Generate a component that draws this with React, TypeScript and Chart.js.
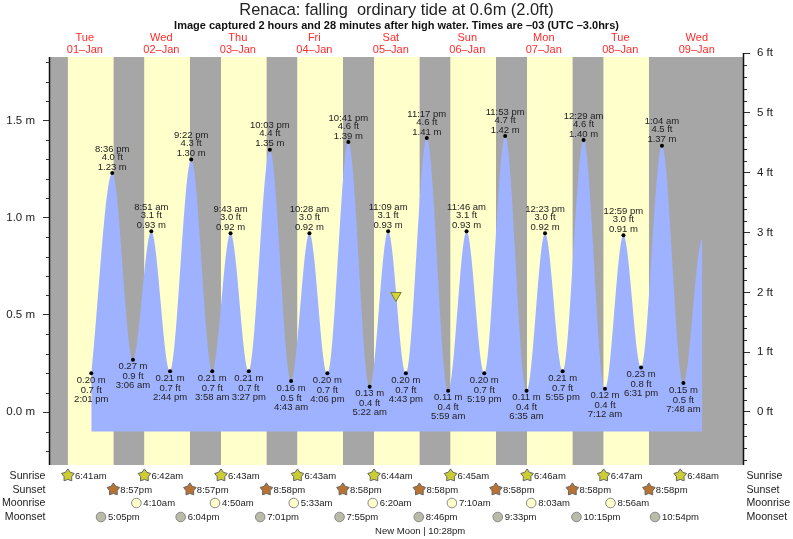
import React, { useEffect, useRef } from "react";
import { Chart, registerables } from "chart.js";

Chart.register(...registerables);

const FONT = "'Liberation Sans', Arial, sans-serif";
const TITLE = "Renaca: falling  ordinary tide at 0.6m (2.0ft)";
const SUBTITLE = "Image captured 2 hours and 28 minutes after high water. Times are –03 (UTC –3.0hrs)";

const dayNames = ["Tue", "Wed", "Thu", "Fri", "Sat", "Sun", "Mon", "Tue", "Wed"];
const dayDates = ["01–Jan", "02–Jan", "03–Jan", "04–Jan", "05–Jan", "06–Jan", "07–Jan", "08–Jan", "09–Jan"];

// Tide turning points: day of January, clock time, metres, feet
const tideDays = [1, 1, 2, 2, 2, 2, 3, 3, 3, 3, 4, 4, 4, 4, 5, 5, 5, 5, 6, 6, 6, 6, 7, 7, 7, 8, 8, 8, 8, 9, 9];
const tideTimes = [
  "2:01 pm", "8:36 pm", "3:06 am", "8:51 am", "2:44 pm", "9:22 pm", "3:58 am", "9:43 am", "3:27 pm", "10:03 pm",
  "4:43 am", "10:28 am", "4:06 pm", "10:41 pm", "5:22 am", "11:09 am", "4:43 pm", "11:17 pm", "5:59 am", "11:46 am",
  "5:19 pm", "11:53 pm", "6:35 am", "12:23 pm", "5:55 pm", "12:29 am", "7:12 am", "12:59 pm", "6:31 pm", "1:04 am", "7:48 am",
];
const tideMetres = [
  0.2, 1.23, 0.27, 0.93, 0.21, 1.3, 0.21, 0.92, 0.21, 1.35, 0.16, 0.92, 0.2, 1.39, 0.13, 0.93, 0.2, 1.41, 0.11, 0.93,
  0.2, 1.42, 0.11, 0.92, 0.21, 1.4, 0.12, 0.91, 0.23, 1.37, 0.15,
];
const tideFeet = [
  "0.7", "4.0", "0.9", "3.1", "0.7", "4.3", "0.7", "3.0", "0.7", "4.4", "0.5", "3.0", "0.7", "4.6", "0.4", "3.1",
  "0.7", "4.6", "0.4", "3.1", "0.7", "4.7", "0.4", "3.0", "0.7", "4.6", "0.4", "3.0", "0.8", "4.5", "0.5",
];
// The curve stops, near its next high, at the right-hand edge of the blue area
const curveEndDay = 9;
const curveEndTimes = ["1:44 pm", "1:45 pm"];
const curveEndMetres = [0.89, 0.89];
const nowDay = 5;
const nowTime = "1:37 pm";
const nowMetres = 0.6;

const sunriseTimes = ["6:41am", "6:42am", "6:43am", "6:43am", "6:44am", "6:45am", "6:46am", "6:47am", "6:48am"];
const sunriseDays = [1, 2, 3, 4, 5, 6, 7, 8, 9];
const sunsetTimes = ["8:57pm", "8:57pm", "8:58pm", "8:58pm", "8:58pm", "8:58pm", "8:58pm", "8:58pm"];
const sunsetDays = [1, 2, 3, 4, 5, 6, 7, 8];
const moonriseTimes = ["4:10am", "4:50am", "5:33am", "6:20am", "7:10am", "8:03am", "8:56am"];
const moonriseDays = [2, 3, 4, 5, 6, 7, 8];
const moonsetTimes = ["5:05pm", "6:04pm", "7:01pm", "7:55pm", "8:46pm", "9:33pm", "10:15pm", "10:54pm"];
const moonsetDays = [1, 2, 3, 4, 5, 6, 7, 8];
const phaseDay = 5;
const phaseTime = "10:28pm";
const phaseName = "New Moon";

const Y_MIN = -0.272;
const Y_TOP = 1.847;
const BAND_TOP = 1.826;
const FILL_BASE = -0.1;
const FT_MIN = -0.886;
const FT_MAX = 6;
const X_MIN = 1.07;
const X_MAX = 218.5;
const minorMetres = [-0.2, -0.1, 0.1, 0.2, 0.3, 0.4, 0.6, 0.7, 0.8, 0.9, 1.1, 1.2, 1.3, 1.4, 1.6, 1.7, 1.8];
const minorFeet = [-0.8, -0.6, -0.4, -0.2, 0.2, 0.4, 0.6, 0.8, 1.2, 1.4, 1.6, 1.8, 2.2, 2.4, 2.6, 2.8, 3.2, 3.4, 3.6, 3.8, 4.2, 4.4, 4.6, 4.8, 5.2, 5.4, 5.6, 5.8];

const GREY = "#a6a6a6";
const YELLOW = "#ffffcc";
const TIDE = "#9fb2ff";
const RED = "#ff2a2a";
const INK = "#222222";

function hourOf(day: number, time: string): number {
  const m = time.match(/(\d+):(\d+)\s*(am|pm)/)!;
  let h = Number(m[1]) % 12;
  if (m[3] === "pm") h += 12;
  return (day - 1) * 24 + h + Number(m[2]) / 60;
}

const tideHours = tideTimes.map((t, i) => hourOf(tideDays[i], t));
const sunriseHours = sunriseTimes.map((t, i) => hourOf(sunriseDays[i], t));
const sunsetHours = sunsetTimes.map((t, i) => hourOf(sunsetDays[i], t));

function starPath(ctx: CanvasRenderingContext2D, x: number, y: number, r: number) {
  ctx.beginPath();
  for (let i = 0; i < 10; i++) {
    const a = -Math.PI / 2 + (i * Math.PI) / 5;
    const rr = i % 2 === 0 ? r : r * 0.6;
    const px = x + rr * Math.cos(a);
    const py = y + rr * Math.sin(a);
    if (i === 0) ctx.moveTo(px, py);
    else ctx.lineTo(px, py);
  }
  ctx.closePath();
}

const annotate = {
  id: "annotate",
  afterDatasetsDraw(chart: any) {
    const { ctx, scales } = chart;
    const x = scales.x;
    const y = scales.y;
    const ft = scales.ft;
    const area = chart.chartArea;
    ctx.save();

    // axis lines and minor ticks
    ctx.strokeStyle = "#111";
    ctx.lineWidth = 1.5;
    ctx.beginPath();
    ctx.moveTo(49.5, y.getPixelForValue(BAND_TOP));
    ctx.lineTo(49.5, area.bottom);
    ctx.moveTo(743.5, area.top);
    ctx.lineTo(743.5, area.bottom);
    ctx.stroke();
    ctx.lineWidth = 1;
    ctx.strokeStyle = "#333";
    ctx.beginPath();
    minorMetres.forEach((v) => {
      const p = Math.round(y.getPixelForValue(v)) + 0.5;
      ctx.moveTo(46, p);
      ctx.lineTo(49, p);
    });
    minorFeet.forEach((v) => {
      const p = Math.round(ft.getPixelForValue(v)) + 0.5;
      ctx.moveTo(744, p);
      ctx.lineTo(747, p);
    });
    ctx.stroke();

    // day headings
    ctx.fillStyle = RED;
    ctx.textAlign = "center";
    ctx.textBaseline = "middle";
    ctx.font = `11px ${FONT}`;
    dayNames.forEach((n, i) => {
      const px = x.getPixelForValue(i * 24 + 12);
      ctx.fillText(n, px, 37.5);
      ctx.fillText(dayDates[i], px, 49.5);
    });

    // tide labels
    ctx.fillStyle = INK;
    ctx.font = `9.5px ${FONT}`;
    tideHours.forEach((h, i) => {
      const px = x.getPixelForValue(h);
      const py = y.getPixelForValue(tideMetres[i]);
      const high = tideMetres[i] > 0.5;
      const m = `${tideMetres[i].toFixed(2)} m`;
      const f = `${tideFeet[i]} ft`;
      if (high) {
        ctx.fillText(m, px, py - 6);
        ctx.fillText(f, px, py - 16);
        ctx.fillText(tideTimes[i], px, py - 24);
      } else {
        ctx.fillText(m, px, py + 7);
        ctx.fillText(f, px, py + 17);
        ctx.fillText(tideTimes[i], px, py + 26);
      }
    });

    // almanac rows
    const rows = [
      { name: "Sunrise", yy: 476, days: sunriseDays, times: sunriseTimes, kind: "sunrise" },
      { name: "Sunset", yy: 490, days: sunsetDays, times: sunsetTimes, kind: "sunset" },
      { name: "Moonrise", yy: 503.5, days: moonriseDays, times: moonriseTimes, kind: "moonrise" },
      { name: "Moonset", yy: 517.5, days: moonsetDays, times: moonsetTimes, kind: "moonset" },
    ];
    rows.forEach((r) => {
      ctx.font = `10.6px ${FONT}`;
      ctx.fillStyle = INK;
      ctx.textAlign = "right";
      ctx.fillText(r.name, 45.5, r.yy);
      ctx.textAlign = "left";
      ctx.fillText(r.name, 746.5, r.yy);
      r.times.forEach((t, i) => {
        const px = x.getPixelForValue(hourOf(r.days[i], t));
        if (r.kind === "sunrise" || r.kind === "sunset") {
          starPath(ctx, px, r.yy - 0.5, 6.6);
          ctx.fillStyle = r.kind === "sunrise" ? "#cccc33" : "#b87333";
          ctx.fill();
          ctx.strokeStyle = "#666";
          ctx.lineWidth = 1;
          ctx.stroke();
        } else {
          ctx.beginPath();
          ctx.arc(px, r.yy - 0.5, 4.8, 0, Math.PI * 2);
          ctx.fillStyle = r.kind === "moonrise" ? "#ffffcc" : "#bbbbaa";
          ctx.fill();
          ctx.strokeStyle = "#888";
          ctx.lineWidth = 1;
          ctx.stroke();
        }
        ctx.fillStyle = INK;
        ctx.font = `9.5px ${FONT}`;
        ctx.textAlign = "left";
        ctx.fillText(t, px + 7, r.yy);
      });
    });

    // moon phase
    ctx.font = `9.5px ${FONT}`;
    ctx.fillStyle = INK;
    const head = `${phaseName} `;
    const px = x.getPixelForValue(hourOf(phaseDay, phaseTime));
    ctx.textAlign = "left";
    ctx.fillText(`${phaseName} | ${phaseTime}`, px - ctx.measureText(head).width - 1, 531);
    ctx.restore();
  },
};

export default function App() {
  const ref = useRef<HTMLCanvasElement>(null);
  useEffect(() => {
    document.body.style.margin = "0";
    const nights: any[] = [];
    const edges = [X_MIN, ...sunsetHours];
    edges.forEach((s, i) => {
      const e = i < edges.length - 1 ? sunriseHours[i] : X_MAX;
      nights.push({
        type: "line",
        data: [{ x: s, y: BAND_TOP }, { x: e, y: BAND_TOP }],
        borderWidth: 0,
        pointRadius: 0,
        backgroundColor: GREY,
        fill: { value: Y_MIN },
        order: 3,
      });
    });
    const chart = new Chart(ref.current!, {
      type: "line",
      data: {
        datasets: [
          {
            type: "scatter",
            data: [{ x: hourOf(nowDay, nowTime), y: nowMetres }],
            pointStyle: "triangle",
            rotation: 180,
            pointRadius: 6,
            backgroundColor: "#d6d633",
            borderColor: "#7d7d3a",
            borderWidth: 1,
            order: 0,
          },
          {
            data: [
              ...tideHours.map((h, i) => ({ x: h, y: tideMetres[i] })),
              ...curveEndTimes.map((t, i) => ({ x: hourOf(curveEndDay, t), y: curveEndMetres[i] })),
            ],
            cubicInterpolationMode: "monotone",
            borderWidth: 0,
            backgroundColor: TIDE,
            fill: { value: FILL_BASE },
            pointRadius: (c: any) => (c.dataIndex < tideHours.length ? 2 : 0),
            pointBackgroundColor: "#000",
            pointBorderWidth: 0,
            order: 1,
          },
          ...nights,
          {
            data: [{ x: X_MIN, y: BAND_TOP }, { x: X_MAX, y: BAND_TOP }],
            borderWidth: 0,
            pointRadius: 0,
            backgroundColor: YELLOW,
            fill: { value: Y_MIN },
            order: 4,
          },
        ],
      } as any,
      options: {
        responsive: false,
        animation: false,
        layout: { autoPadding: false, padding: { bottom: 74 } },
        plugins: {
          legend: { display: false },
          tooltip: { enabled: false },
          title: {
            display: true,
            text: TITLE,
            color: "#222",
            font: { family: FONT, size: 16.4, weight: "normal", lineHeight: 1.1 },
            padding: { top: 1, bottom: 0 },
          },
          subtitle: {
            display: true,
            text: SUBTITLE,
            color: "#111",
            font: { family: FONT, size: 11, weight: "bold", lineHeight: 1.2 },
            padding: { top: 0, bottom: 20.8 },
          },
        },
        scales: {
          x: { type: "linear", display: false, min: X_MIN, max: X_MAX },
          y: {
            position: "left",
            min: Y_MIN,
            max: Y_TOP,
            afterFit: (s: any) => { s.width = 50; },
            border: { display: false },
            grid: { drawOnChartArea: false, tickLength: 7, tickColor: "#333" },
            ticks: {
              stepSize: 0.5,
              includeBounds: false,
              padding: 8,
              color: INK,
              font: { family: FONT, size: 11.5 },
              callback: (v: any) => `${Number(v).toFixed(1)} m`,
            },
          },
          ft: {
            position: "right",
            min: FT_MIN,
            max: FT_MAX,
            afterFit: (s: any) => { s.width = 50; },
            border: { display: false },
            grid: { drawOnChartArea: false, tickLength: 7, tickColor: "#333" },
            ticks: {
              stepSize: 1,
              includeBounds: false,
              padding: 7,
              color: INK,
              font: { family: FONT, size: 11.5 },
              callback: (v: any) => `${v} ft`,
            },
          },
        },
      } as any,
      plugins: [annotate],
    });
    return () => chart.destroy();
  }, []);
  return (
    <div style={{ position: "fixed", left: 0, top: 0, width: 793, height: 539, background: "#fff" }}>
      <canvas ref={ref} width={793} height={539} style={{ display: "block" }} />
    </div>
  );
}
